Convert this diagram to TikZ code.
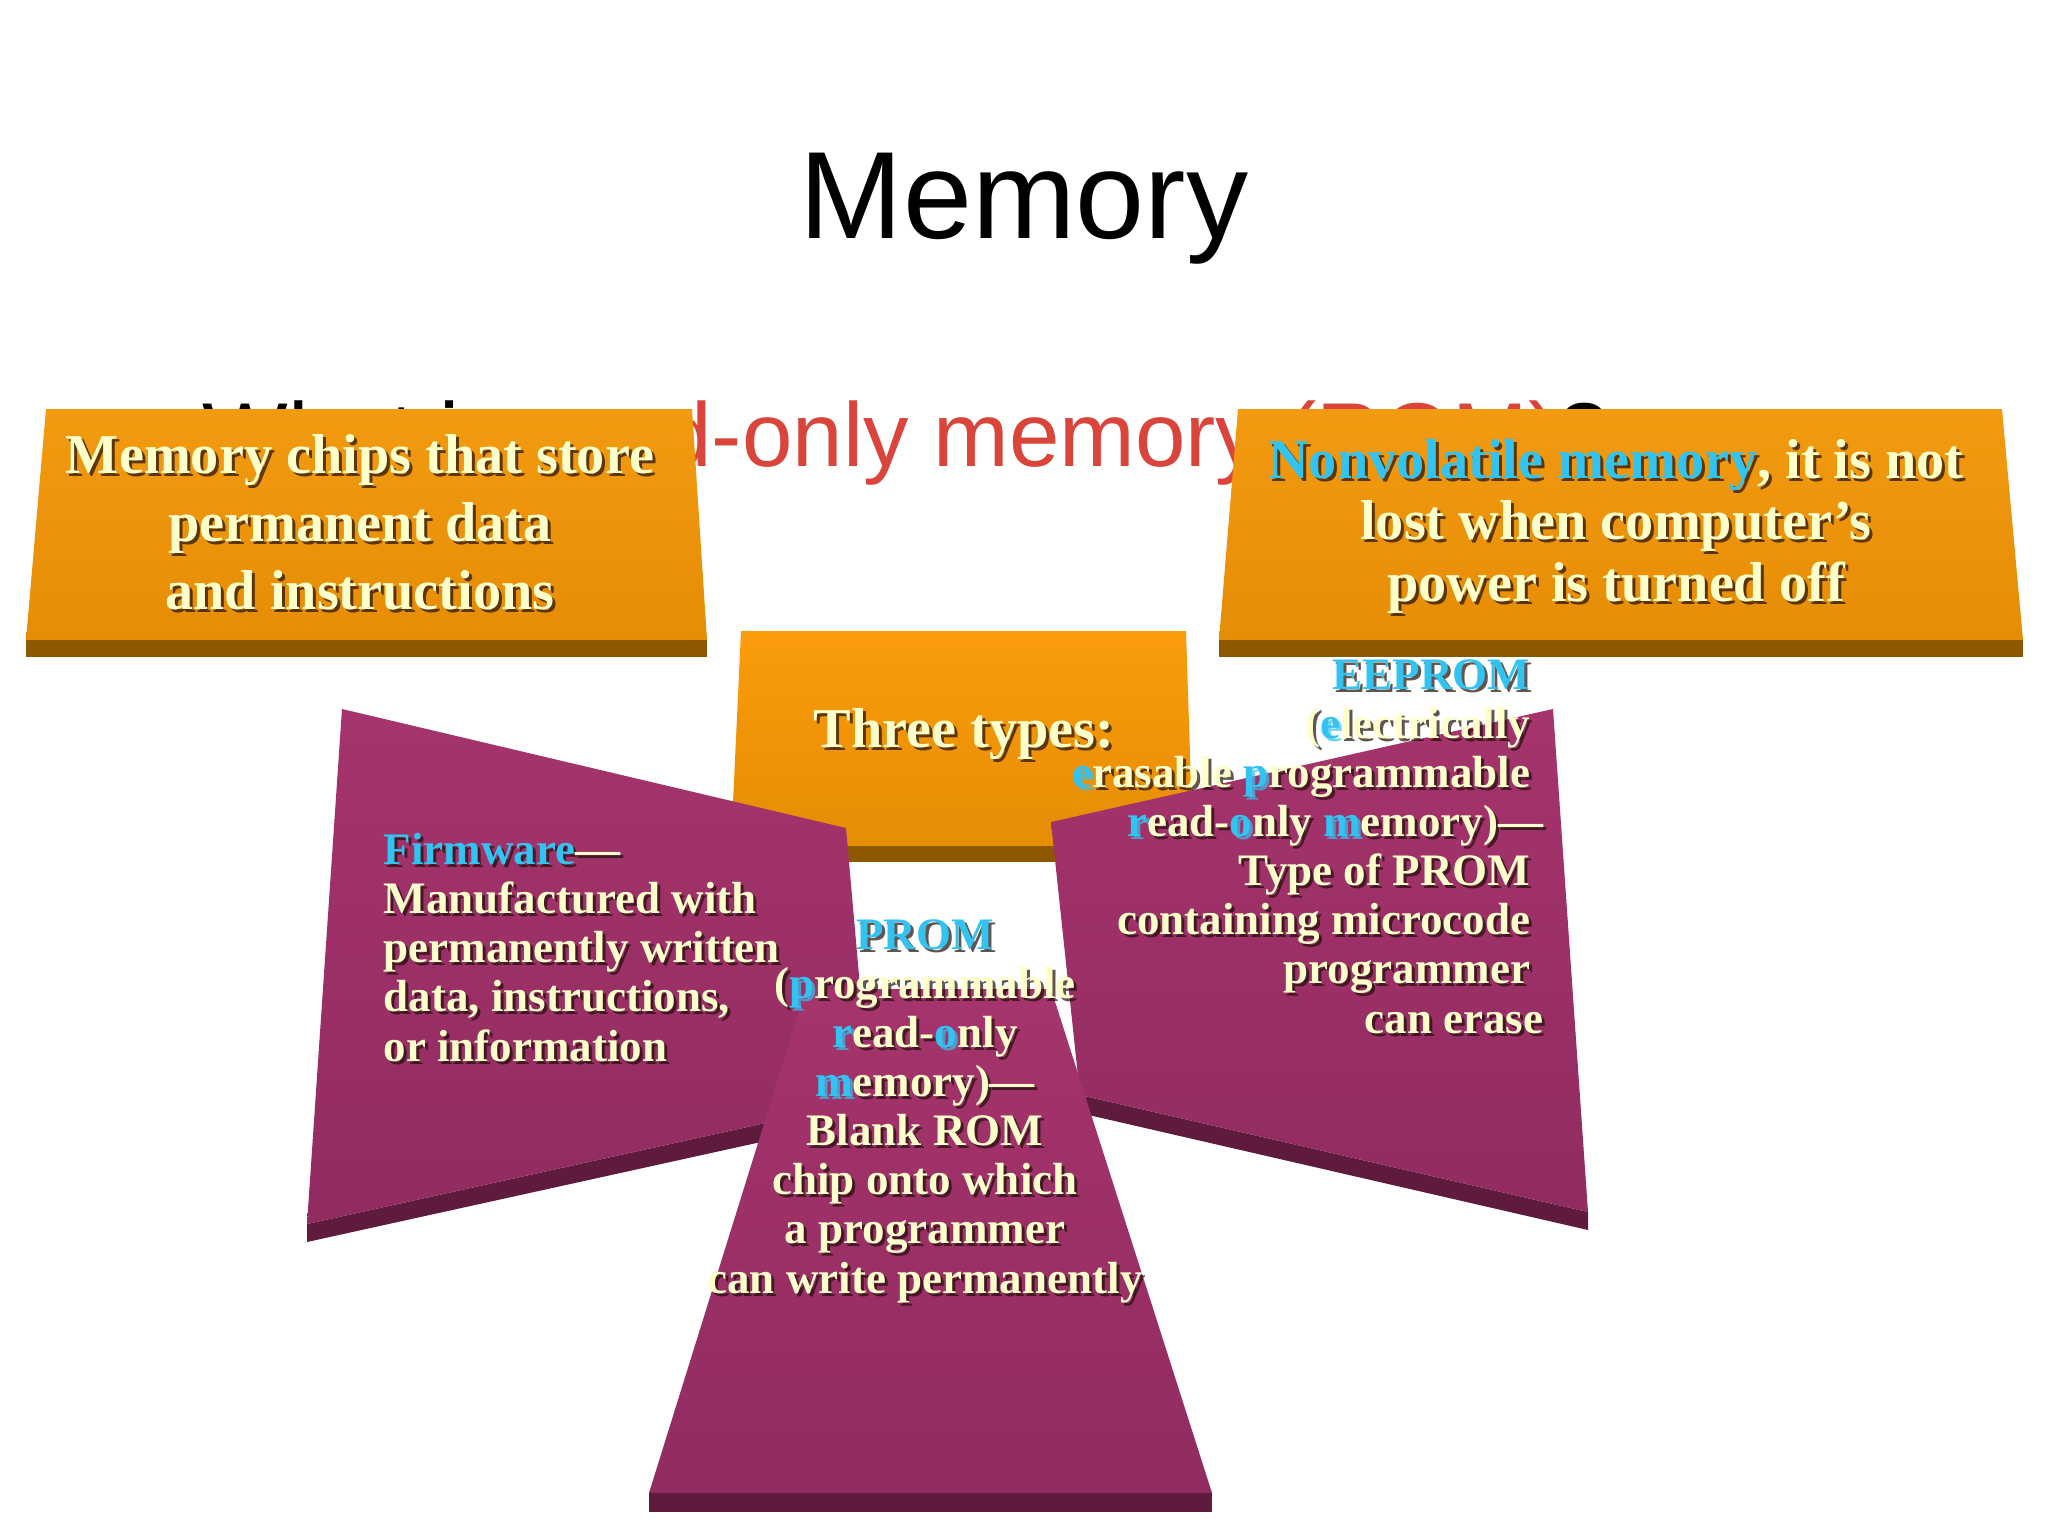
\documentclass[tikz,border=0pt]{standalone}
\usepackage{fontspec}
\setmainfont{Liberation Serif}
\newfontfamily\arialf{Liberation Sans}
\definecolor{creamc}{HTML}{FFFFCC}
\definecolor{hlblue}{HTML}{33C3F0}
\definecolor{shadowc}{HTML}{1E0E08}
\definecolor{subred}{HTML}{D9453B}
\definecolor{orA}{HTML}{F29A10}
\definecolor{orB}{HTML}{E68D06}
\definecolor{orC}{HTML}{FA9C0A}
\definecolor{orband}{HTML}{8E5800}
\definecolor{mgA}{HTML}{A5346C}
\definecolor{mgB}{HTML}{912C60}
\definecolor{mgband}{HTML}{5E1B3E}
\newcommand\hlc{hlblue}
\newcommand\hl[1]{{\color{\hlc}#1}}
\newcommand\stxt[4]{%
  \node[#3,text=shadowc,text opacity=0.7,shift={(3,3)}] (#1s) at (#2) {\renewcommand\hlc{shadowc}#4};
  \node[#3,text=creamc] (#1) at (#2) {#4};}
\tikzset{
  orface/.style={top color=orA, bottom color=orB},
  orside/.style={fill=orband},
  mgface/.style={top color=mgA, bottom color=mgB},
  mgside/.style={fill=mgband},
  bigtxt/.style={font=\fontsize{16pt}{19.3pt}\selectfont\bfseries, align=center, inner sep=0pt},
  smalltxt/.style={font=\fontsize{12.8pt}{13.95pt}\selectfont\bfseries, inner sep=0pt},
}
\begin{document}
\begin{tikzpicture}[x=0.01cm,y=-0.01cm]
\fill[white] (0,0) rectangle (2048,1536);
\useasboundingbox (0,0) rectangle (2048,1536);
% title
\node[anchor=base, inner sep=0pt, font=\arialf\fontsize{35.3pt}{40pt}\selectfont] (title) at (1024,238) {Memory};
\node[anchor=base west, inner sep=0pt, font=\arialf\fontsize{25.8pt}{30pt}\selectfont] (sub) at (202,466)
  {What is {\color{subred}read-only memory (ROM)}?};
% left orange box
\path[orface] (46,409) -- (692,409) -- (707,640) -- (26,640) -- cycle;
\path[orside] (26,640) rectangle (707,657);
% right orange box
\path[orface] (1238,409) -- (2002,409) -- (2023,640) -- (1219,640) -- cycle;
\path[orside] (1219,640) rectangle (2023,657);
% center orange box
\path[top color=orC, bottom color=orB] (741,631) -- (1186,631) -- (1193,846) -- (731,846) -- cycle;
\path[orside] (731,846) rectangle (1193,862);
% left magenta
\path[mgside] (307,1224) -- (870,1100) -- (870,1118) -- (307,1242) -- cycle;
\path[mgface] (342,709) -- (846,828) -- (870,1100) -- (307,1224) -- cycle;
% right magenta
\path[mgside] (1080,1095) -- (1588,1212) -- (1588,1230) -- (1080,1113) -- cycle;
\path[mgface] (1051,822) -- (1553,709) -- (1588,1212) -- (1080,1095) -- cycle;
% PROM magenta
\path[mgside] (649,1493) -- (1212,1493) -- (1212,1512) -- (649,1512) -- cycle;
\path[mgface] (806,989) -- (1051,989) -- (1212,1493) -- (649,1493) -- cycle;
% texts (anchor=base is the baseline of the last line)
\stxt{lbox}{360,609}{bigtxt,anchor=base}{Memory chips that store\\permanent data\\and instructions}
\stxt{rbox}{1616,601}{bigtxt,anchor=base,font=\fontsize{16pt}{17.4pt}\selectfont\bfseries}{\hl{Nonvolatile memory}, it is not\\lost when computer’s\\power is turned off}
\stxt{three}{964,747}{bigtxt,anchor=base}{Three types:}
\stxt{firm}{383,1061}{smalltxt,anchor=base west,align=left}{\hl{Firmware}—\\Manufactured with\\permanently written\\data, instructions,\\or information}
\stxt{prom}{925,1293}{smalltxt,anchor=base,align=center}{\hl{PROM}\\(\hl{p}rogrammable\\\hl{r}ead-\hl{o}nly\\\hl{m}emory)—\\Blank ROM\\chip onto which\\a programmer\\can write permanently}
\stxt{eep}{1544,1033}{smalltxt,anchor=base east,align=right}{\hl{EEPROM}\kern.29em\\(\hl{e}lectrically\kern.29em\\\hl{e}rasable \hl{p}rogrammable\kern.29em\\\hl{r}ead-\hl{o}nly \hl{m}emory)—\\Type of PROM\kern.29em\\containing microcode\kern.29em\\programmer\kern.29em\\can erase}
\end{tikzpicture}
\end{document}
